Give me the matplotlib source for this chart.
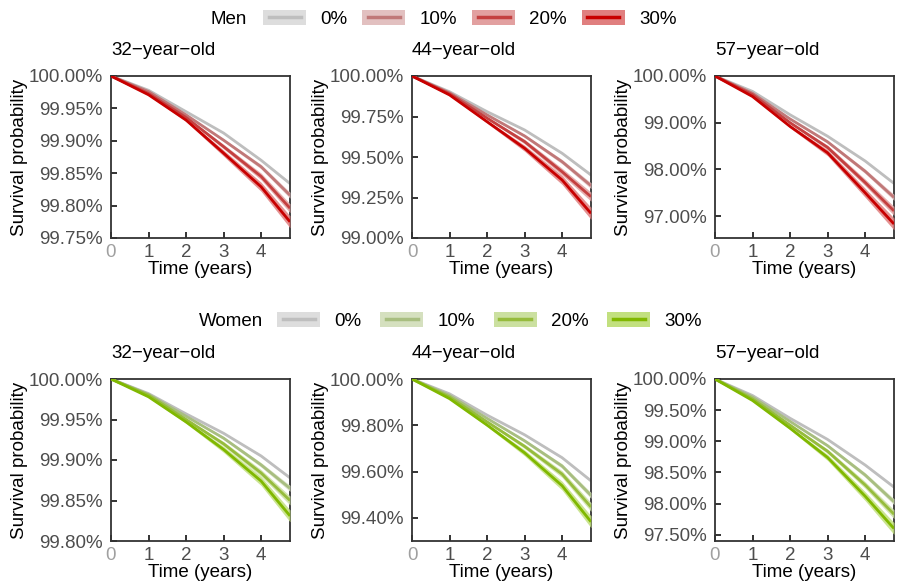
import matplotlib
matplotlib.use("Agg")
import matplotlib.pyplot as plt
from matplotlib.patches import Patch
from matplotlib.lines import Line2D
from matplotlib.legend_handler import HandlerTuple
from matplotlib.ticker import FuncFormatter
import numpy as np

plt.rcParams["font.family"] = ["Liberation Sans", "DejaVu Sans"]
plt.rcParams["font.size"] = 13.5

years = [0, 1, 2, 3, 4, 4.77]
levels = ["0%", "10%", "20%", "30%"]
ages = ["32", "44", "57"]

# survival probability (%) for 0/10/20/30% -- men
men_32 = [[100, 99.978, 99.945, 99.912, 99.870, 99.834],
          [100, 99.976, 99.940, 99.901, 99.860, 99.816],
          [100, 99.973, 99.936, 99.891, 99.845, 99.796],
          [100, 99.971, 99.932, 99.881, 99.829, 99.775]]
men_44 = [[100, 99.903, 99.780, 99.667, 99.523, 99.389],
          [100, 99.896, 99.760, 99.630, 99.471, 99.323],
          [100, 99.890, 99.740, 99.595, 99.409, 99.255],
          [100, 99.883, 99.718, 99.554, 99.358, 99.152]]
men_57 = [[100, 99.67, 99.17, 98.71, 98.18, 97.70],
          [100, 99.63, 99.08, 98.59, 97.96, 97.40],
          [100, 99.60, 99.00, 98.47, 97.72, 97.11],
          [100, 99.56, 98.92, 98.355, 97.50, 96.83]]

# women
women_32 = [[100, 99.982, 99.957, 99.933, 99.905, 99.878],
            [100, 99.981, 99.954, 99.927, 99.894, 99.865],
            [100, 99.980, 99.950, 99.920, 99.884, 99.850],
            [100, 99.978, 99.947, 99.913, 99.874, 99.831]]
women_44 = [[100, 99.936, 99.844, 99.759, 99.660, 99.560],
            [100, 99.929, 99.830, 99.733, 99.624, 99.497],
            [100, 99.922, 99.815, 99.709, 99.589, 99.447],
            [100, 99.915, 99.801, 99.681, 99.539, 99.383]]
women_57 = [[100, 99.735, 99.37, 99.03, 98.62, 98.265],
            [100, 99.71, 99.32, 98.93, 98.46, 98.03],
            [100, 99.68, 99.26, 98.84, 98.30, 97.83],
            [100, 99.655, 99.21, 98.74, 98.12, 97.60]]

# half width of the confidence band at the last time point, and how it grows
men_ci = [[0.0023, 0.0046, 0.0069, 0.0093],
          [0.009, 0.018, 0.028, 0.037],
          [0.03, 0.064, 0.096, 0.128]]
women_ci = [[0.0018, 0.0037, 0.0055, 0.0073],
            [0.0064, 0.0128, 0.019, 0.0255],
            [0.024, 0.048, 0.071, 0.095]]
ci_shape = [0, 0.1, 0.25, 0.5, 0.75, 1.0]

# axis ranges and ticks per panel
men_ylim = [(99.75, 100), (99.0, 100), (96.53, 100)]
men_ticks = [[99.75, 99.80, 99.85, 99.90, 99.95, 100],
             [99.0, 99.25, 99.5, 99.75, 100],
             [97, 98, 99, 100]]
women_ylim = [(99.80, 100), (99.30, 100), (97.40, 100)]
women_ticks = [[99.80, 99.85, 99.90, 99.95, 100],
               [99.4, 99.6, 99.8, 100],
               [97.5, 98.0, 98.5, 99.0, 99.5, 100]]

men_lines = ["#bebebe", "#c07878", "#c44040", "#c80000"]
men_fill = ["#dddddd", "#e2c0c0", "#e2a0a0", "#e07f7f"]
women_lines = ["#bebebe", "#a8be80", "#96bc3c", "#80b800"]
women_fill = ["#dddddd", "#d5e0bf", "#cbe0a0", "#c2e07f"]

W, H = 899, 587
fig = plt.figure(figsize=(W / 100, H / 100), dpi=100)

lefts = [111, 412, 715]
fmt = FuncFormatter(lambda v, p: f"{v:.2f}%")


def drawPanel(ax, series, ci, ylim, ticks, lines, fills, age):
    t = np.array(years)
    for k in range(4):
        y = np.array(series[k])
        hw = ci[k] * np.array(ci_shape)
        ax.fill_between(t, y - hw, y + hw, color=fills[k], alpha=0.85,
                        lw=0, zorder=2 + k)
        ax.plot(t, y, color=lines[k], lw=2.0, zorder=2.5 + k,
                solid_capstyle="butt")
    ax.set_xlim(0, years[-1])
    ax.set_ylim(*ylim)
    ax.set_xticks([0, 1, 2, 3, 4])
    ax.set_yticks(ticks)
    ax.yaxis.set_major_formatter(fmt)
    ax.tick_params(direction="in", length=4, width=1.4, color="#333333",
                   labelcolor="#4d4d4d", labelsize=13.5)
    ax.tick_params(axis="y", pad=6)
    ax.tick_params(axis="x", pad=4)
    for s in ax.spines.values():
        s.set_color("#333333")
        s.set_linewidth(1.3)
    ax.set_xlabel("Time (years)", labelpad=0)
    ax.set_ylabel("Survival probability", labelpad=0)
    ax.set_title(f"{age}\u2212year\u2212old", loc="left", pad=15,
                 fontsize=13.5)


def drawLegend(title, lines, fills, title_x, key_x, y, spacing):
    fig.text(title_x / W, 1 - y / H, title, ha="left", va="center",
             fontsize=13.5)
    handles = [(Patch(fc=fills[k], ec="none"),
                Line2D([], [], color=lines[k], lw=2.5))
               for k in range(4)]
    fig.legend(handles, levels, handler_map={tuple: HandlerTuple(ndivide=1)},
               ncol=4, frameon=False, loc="center left",
               bbox_to_anchor=(key_x / W, 1 - y / H), numpoints=2,
               handlelength=2.3, handleheight=0.85, handletextpad=0.75,
               columnspacing=spacing, borderpad=0, borderaxespad=0,
               fontsize=13.5)


rows = [(men_32, men_44, men_57, men_ci, men_ylim, men_ticks,
         men_lines, men_fill, 238),
        (women_32, women_44, women_57, women_ci, women_ylim, women_ticks,
         women_lines, women_fill, 541)]

for r, row in enumerate(rows):
    data = row[:3]
    ci, ylims, ticks, lines, fills, bottom = row[3:]
    for i in range(3):
        ax = fig.add_axes([lefts[i] / W, 1 - bottom / H, 179 / W, 162 / H])
        drawPanel(ax, data[i], ci[i], ylims[i], ticks[i], lines, fills, ages[i])
        ax.get_xticklabels()[0].set_color("#a0a0a0")

drawLegend("Men", men_lines, men_fill, 210, 263, 19, 0.8)
drawLegend("Women", women_lines, women_fill, 199, 277, 321, 1.0)

fig.savefig("out.png", dpi=100)
